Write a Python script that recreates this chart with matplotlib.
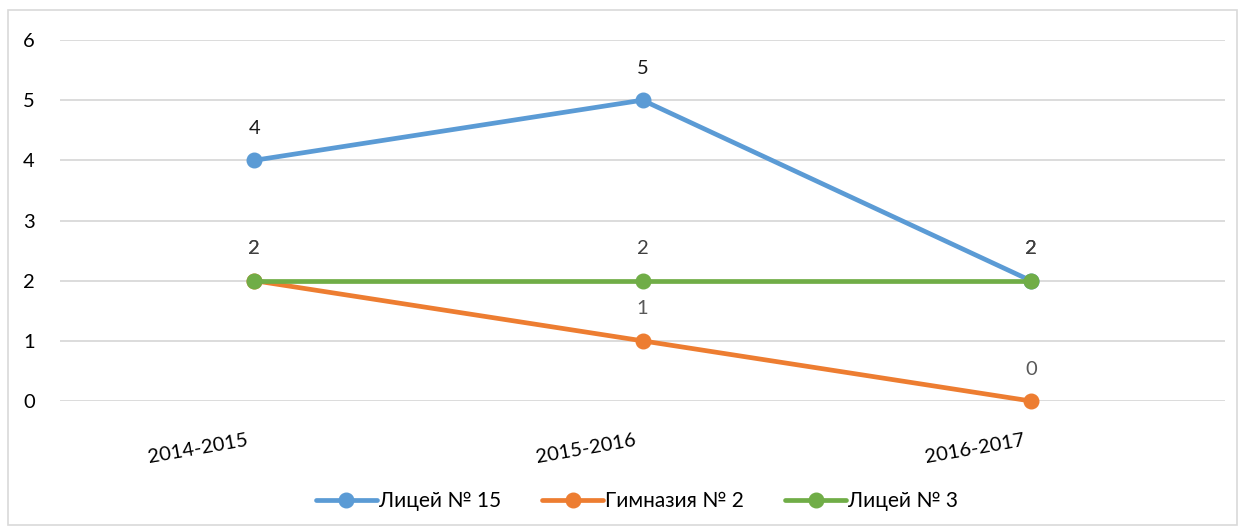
import matplotlib
matplotlib.use("Agg")
import matplotlib.pyplot as plt
from matplotlib.patches import Rectangle
import matplotlib.transforms as mtransforms

plt.rcParams['font.family'] = ['Lato', 'DejaVu Sans']

categories = ["2014-2015", "2015-2016", "2016-2017"]
series_names = ["Лицей № 15", "Гимназия № 2", "Лицей № 3"]
licey15 = [4, 5, 2]
gimn2 = [2, 1, 0]
licey3 = [2, 2, 2]
yticks = [0, 1, 2, 3, 4, 5, 6]

colors = ["#5B9BD5", "#ED7D31", "#70AD47"]
label_colors = ["#1a1a1a", "#595959", "#404040"]

fig = plt.figure(figsize=(12.45, 5.32), dpi=100)
ax = fig.add_axes([60/1245, 1-401/532, (1225-60)/1245, (401-40)/532])

x = list(range(len(categories)))
for vals, name, c, lc in zip([licey15, gimn2, licey3], series_names, colors, label_colors):
    ax.plot(x, vals, color=c, lw=3.4, marker='o', markersize=10.5, label=name,
            solid_capstyle='round', zorder=3, clip_on=False)
    for xi, v in zip(x, vals):
        ax.annotate(str(v), (xi, v), xytext=(0, 23), textcoords='offset points',
                    ha='center', va='center', fontsize=14.5, color=lc)

ax.set_xlim(-0.5, 2.5)
ax.set_ylim(0, 6)
ax.set_yticks(yticks)
ax.set_yticklabels([str(t) for t in yticks], fontsize=14.5)
ax.grid(axis='y', color='#D9D9D9', lw=1.3, zorder=0)
ax.set_axisbelow(True)
for s in ax.spines.values():
    s.set_visible(False)
ax.tick_params(axis='both', length=0)
ax.tick_params(axis='y', pad=18)
ax.set_xticks(x)
ax.set_xticklabels(categories, fontsize=14.5, rotation=10, ha='right',
                   rotation_mode='anchor')
ax.tick_params(axis='x', pad=22)
offset = mtransforms.ScaledTranslation(-8/100, 0, fig.dpi_scale_trans)
for lbl in ax.get_xticklabels():
    lbl.set_transform(lbl.get_transform() + offset)

leg = fig.legend(loc='center', bbox_to_anchor=(637/1245, 1-501/532), ncol=3,
                 frameon=False, fontsize=15, handlelength=2.9, handletextpad=0.1,
                 columnspacing=2.0)

fig.patches.append(Rectangle((8/1245, 1-525/532), (1237-8)/1245, (525-10)/532,
                             transform=fig.transFigure, fill=False,
                             edgecolor='#D9D9D9', lw=1.2))

fig.savefig("out.png", dpi=100)
